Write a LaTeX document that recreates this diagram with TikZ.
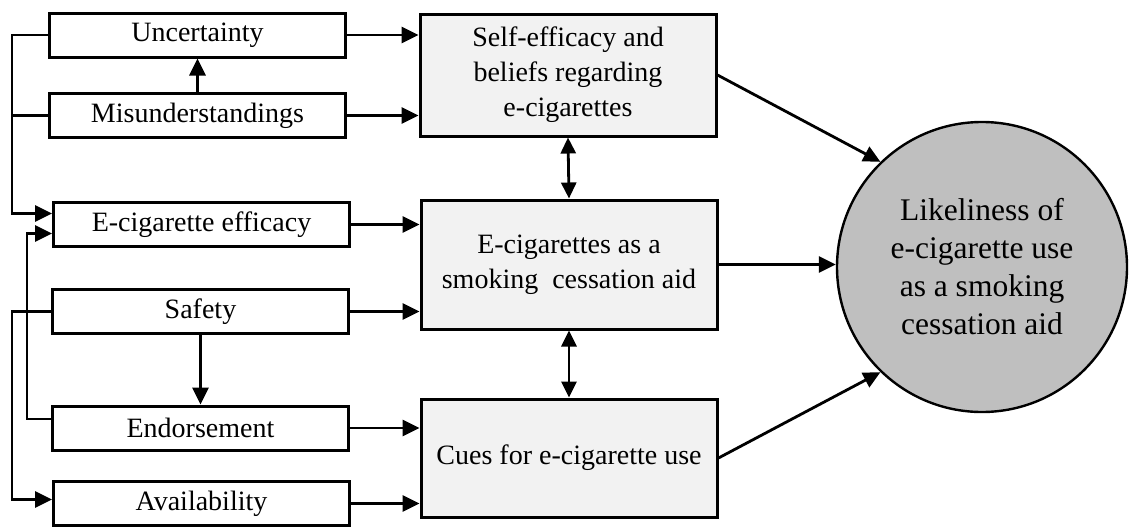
\documentclass[tikz,border=0pt]{standalone}
\usepackage{fontspec}
\setmainfont{Liberation Serif}
\usetikzlibrary{arrows.meta}
\definecolor{boxgray}{HTML}{F2F2F2}
\definecolor{circgray}{HTML}{BFBFBF}
\tikzset{
  factor/.style={draw, line width=1.5pt, minimum width=148pt, minimum height=22pt, inner sep=0pt, font=\fontsize{14}{16.8}\selectfont},
  construct/.style={draw, line width=1.5pt, fill=boxgray, minimum width=148pt, inner sep=0pt, align=center, font=\fontsize{14}{17.5}\selectfont},
  outcome/.style={draw, circle, line width=1.2pt, fill=circgray, minimum size=145pt, inner sep=0pt, align=center, font=\fontsize{15.75}{19}\selectfont},
  link/.style={line width=1.4pt},
  arr/.style={link, -{Triangle[length=8.5pt,width=8pt]}},
  dblarr/.style={link, {Triangle[length=8pt,width=7.5pt]}-{Triangle[length=8pt,width=7.5pt]}},
}
\begin{document}
\begin{tikzpicture}[x=0.5pt, y=-0.5pt]
	\useasboundingbox (0,0) rectangle (1129,530);
	% left column
	\node[factor](unc) at (197.5,35){Uncertainty};
	\node[factor](mis) at (197.5,115.5){Misunderstandings};
	\node[factor](eff) at (201.5,224.5){E-cigarette efficacy};
	\node[factor](saf) at (200.5,311.5){Safety};
	\node[factor](end) at (200.5,428){Endorsement};
	\node[factor](avl) at (201.5,503.5){Availability};
	% middle column
	\node[construct, minimum height=61pt](self) at (568,75){Self-efficacy and\\beliefs regarding\\e-cigarettes};
	\node[construct, minimum height=64.5pt](aid) at (569,264.5){E-cigarettes as a\\smoking\ \ cessation aid};
	\node[construct, minimum height=59pt](cue) at (569,458){Cues for e-cigarette use};
	% outcome
	\node[outcome](like) at (982,267){Likeliness of\\e-cigarette use\\as a smoking\\cessation aid};
	% side lines
	\coordinate(lA) at (12,0);
	\coordinate(lB) at (27,0);
	\coordinate(effA) at ([yshift=5.5pt]eff.west);
	\coordinate(effB) at ([yshift=-4.5pt]eff.west);
	\coordinate(endA) at ([yshift=4.5pt]end.west);
	\coordinate(avlA) at ([yshift=2pt]avl.west);
		\draw[arr](unc.west) -| (lA |- effA) to (effA);
		\draw[link](mis.west) to (mis.west -| lA);
		\draw[arr](endA) -| (lB |- effB) to (effB);
		\draw[arr](saf.west) -| (lA |- avlA) to (avlA);
		\draw[arr](mis.north) to (unc.south);
		\draw[arr](saf.south) to (end.north);
	% into the middle
		\draw[arr](unc.east) to (unc.east -| self.west);
		\draw[arr](mis.east) to (mis.east -| self.west);
		\draw[arr](eff.east) to (eff.east -| aid.west);
		\draw[arr](saf.east) to (saf.east -| aid.west);
		\draw[arr](end.east) to (end.east -| cue.west);
		\draw[arr](avl.east) to (avl.east -| cue.west);
		\draw[dblarr](self.south) to (aid.north);
		\draw[dblarr](aid.south) to (cue.north);
	% into the circle
		\draw[arr](self.east) to (like.134);
		\draw[arr](aid.east) to (aid.east -| like.west);
		\draw[arr](cue.east) to (like.226);
\end{tikzpicture}
\end{document}
